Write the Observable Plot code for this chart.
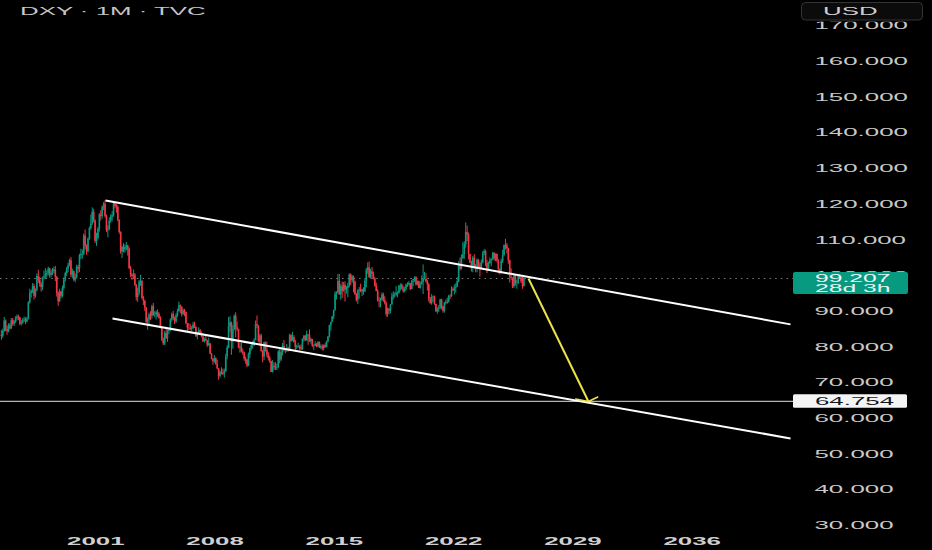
<!DOCTYPE html>
<html><head><meta charset="utf-8">
<script src="https://cdn.jsdelivr.net/npm/d3@7"></script>
<script src="https://cdn.jsdelivr.net/npm/@observablehq/plot@0.6"></script>
<style>
html,body{margin:0;padding:0;background:#000;}
#chart{width:932px;height:550px;position:relative;overflow:hidden;background:#000;}
</style></head><body><div id="chart"></div>
<script>
// ---------- data ----------
const symbolTitle = "DXY · 1M · TVC";
const currency = "USD";
const firstMonth = [1995, 6];   // first monthly candle: June 1995
const firstOpen = 83.3;
const closes = [
  83.0, 84.4, 87.3, 84.9, 84.3, 85.9, 85.1,
  87.4, 86.4, 87.0, 87.9, 88.4, 88.2, 86.4, 86.6, 87.4, 87.6, 87.0, 87.7,
  92.4, 95.0, 95.6, 97.0, 94.2, 95.9, 99.8, 98.8, 97.5, 96.7, 99.3, 99.6,
  100.2, 100.6, 101.9, 100.1, 100.7, 101.1, 101.6, 99.5, 94.9, 92.7, 95.4, 94.2,
  96.4, 98.8, 100.6, 101.9, 102.8, 104.2, 100.1, 101.1, 98.7, 99.5, 102.3, 101.9,
  105.6, 106.0, 106.0, 111.1, 108.3, 106.7, 110.2, 113.2, 114.5, 117.8, 115.4, 109.6,
  110.5, 113.0, 117.0, 116.6, 119.1, 120.0, 116.6, 112.6, 112.9, 115.3, 116.4, 116.8,
  120.2, 119.4, 119.1, 115.4, 112.1, 106.6, 107.9, 107.2, 107.9, 108.3, 107.3, 102.0,
  100.1, 99.8, 100.2, 97.3, 93.9, 95.1, 98.2, 98.4, 93.6, 92.8, 91.0, 86.9,
  87.6, 89.0, 88.6, 91.3, 88.9, 88.9, 89.6, 89.1, 88.1, 85.4, 81.9, 80.9,
  83.8, 82.3, 84.4, 84.8, 87.6, 89.1, 88.1, 87.1, 88.8, 89.9, 91.6, 91.2,
  89.2, 90.1, 89.7, 86.5, 85.3, 85.2, 85.0, 85.2, 86.2, 85.5, 82.9, 83.7,
  84.6, 83.5, 82.9, 81.5, 82.1, 81.8, 80.4, 80.9, 78.0, 76.6, 75.9, 76.7,
  75.1, 73.9, 71.8, 72.9, 72.6, 72.4, 73.1, 77.2, 79.7, 85.6, 86.8, 81.4,
  84.9, 88.6, 85.4, 84.9, 79.8, 80.0, 78.6, 78.3, 76.6, 76.4, 74.7, 77.9,
  79.5, 80.4, 81.0, 81.8, 86.3, 86.0, 81.5, 83.1, 78.7, 77.2, 81.2, 79.0,
  77.8, 76.8, 75.9, 72.9, 74.6, 74.3, 74.1, 74.3, 78.6, 76.4, 78.4, 80.2,
  79.1, 78.9, 79.0, 78.8, 83.2, 81.6, 82.7, 81.2, 79.9, 80.1, 80.2, 79.8,
  79.3, 82.2, 83.0, 81.7, 83.4, 83.2, 81.5, 82.1, 80.2, 80.2, 80.7, 80.0,
  81.3, 79.7, 80.1, 79.5, 80.4, 79.8, 81.5, 82.8, 86.0, 86.9, 88.4, 90.3,
  94.8, 95.3, 98.4, 94.6, 96.9, 95.5, 97.3, 96.0, 96.4, 97.0, 100.2, 98.6,
  99.6, 98.2, 94.6, 93.1, 95.9, 96.1, 95.5, 96.0, 95.4, 98.4, 101.5, 102.2,
  99.5, 101.1, 100.4, 99.1, 97.0, 95.6, 92.9, 92.7, 93.1, 94.6, 93.0, 92.1,
  89.1, 90.6, 90.1, 91.8, 94.0, 94.5, 94.5, 95.1, 95.1, 97.1, 97.3, 96.2,
  95.6, 96.2, 97.3, 97.5, 97.8, 96.1, 98.5, 98.9, 99.4, 97.4, 98.3, 96.4,
  97.4, 98.1, 99.0, 99.0, 98.3, 97.4, 93.4, 92.1, 93.9, 94.0, 91.9, 89.9,
  90.6, 90.9, 93.2, 91.3, 90.0, 92.4, 92.2, 92.6, 94.2, 94.1, 96.0, 95.7,
  96.5, 96.7, 98.3, 103.0, 101.8, 104.7, 105.9, 108.7, 112.1, 111.5, 105.9, 103.5,
  102.1, 104.9, 102.5, 101.7, 104.3, 102.9, 101.9, 103.6, 106.2, 106.7, 103.5, 101.3,
  103.3, 104.2, 104.5, 106.2, 104.7, 105.9, 104.1, 101.7, 100.8, 104.0, 105.7, 108.5,
  108.4, 107.6, 104.2, 99.5, 99.3, 96.9, 100.0, 97.8, 97.8, 99.8, 99.4, 98.3,
  96.9, 99.207
];
const highs = [
  84.6, 85.0, 88.3, 87.6, 85.9, 86.5, 86.6,
  88.0, 88.0, 87.5, 88.5, 89.0, 88.9, 88.4, 87.4, 88.0, 88.4, 88.2, 88.3,
  92.7, 96.2, 96.0, 97.8, 97.6, 96.3, 100.5, 101.5, 99.6, 98.1, 99.6, 101.3,
  102.0, 101.4, 102.4, 102.1, 101.6, 102.0, 102.4, 102.6, 99.8, 95.5, 96.2, 95.6,
  97.1, 99.4, 101.0, 102.3, 103.5, 104.6, 105.1, 101.8, 101.3, 100.4, 102.9, 102.9,
  106.0, 107.4, 107.2, 111.7, 112.8, 108.6, 110.6, 113.6, 117.0, 119.0, 118.6, 115.6,
  111.9, 113.5, 117.4, 118.2, 119.5, 120.5, 121.0, 117.0, 114.0, 116.2, 117.1, 117.9,
  120.5, 120.4, 120.0, 119.6, 115.7, 112.3, 108.3, 109.0, 108.6, 109.3, 108.5, 107.8,
  102.6, 100.6, 101.6, 100.6, 97.5, 96.5, 98.7, 100.1, 98.7, 94.2, 93.1, 91.0,
  88.2, 89.5, 89.9, 91.7, 92.2, 89.9, 90.1, 90.4, 89.6, 88.5, 85.6, 82.5,
  84.4, 84.9, 84.8, 85.2, 87.9, 89.5, 90.0, 88.4, 89.3, 90.6, 92.6, 91.8,
  91.2, 90.6, 90.6, 89.8, 86.6, 86.6, 86.3, 85.8, 86.9, 87.0, 85.7, 84.2,
  85.4, 84.9, 84.2, 83.0, 82.5, 83.0, 81.8, 82.5, 80.9, 78.2, 76.8, 77.6,
  77.0, 76.3, 73.9, 73.3, 74.2, 73.8, 73.8, 78.0, 80.4, 88.3, 88.5, 87.0,
  86.0, 89.0, 89.6, 87.0, 85.0, 81.0, 81.0, 79.4, 78.6, 77.2, 76.6, 78.3,
  79.7, 81.3, 81.6, 82.3, 87.3, 88.7, 86.0, 83.5, 83.6, 79.0, 81.4, 81.4,
  81.4, 78.4, 77.4, 76.0, 76.2, 75.6, 75.6, 75.2, 79.0, 79.5, 79.8, 81.0,
  81.8, 79.3, 80.7, 79.9, 83.6, 83.5, 84.1, 83.2, 81.9, 80.5, 81.1, 80.4,
  80.6, 82.3, 83.2, 83.3, 84.5, 83.5, 84.8, 82.5, 82.2, 80.6, 81.5, 81.0,
  81.5, 81.4, 80.6, 80.6, 80.6, 81.0, 81.6, 82.9, 86.1, 86.9, 88.6, 90.3,
  95.5, 95.5, 100.4, 100.3, 97.5, 98.2, 98.1, 98.3, 97.0, 97.9, 100.5, 100.5,
  100.0, 99.9, 98.5, 95.0, 96.0, 96.7, 97.6, 96.2, 96.6, 99.1, 102.0, 103.6,
  103.8, 101.8, 102.3, 101.0, 99.5, 97.9, 96.1, 93.9, 93.7, 95.2, 95.1, 94.1,
  92.6, 91.0, 90.8, 91.9, 95.0, 95.5, 95.2, 96.9, 95.5, 97.2, 97.7, 97.7,
  96.9, 96.8, 97.7, 98.0, 98.4, 97.8, 98.7, 99.0, 99.7, 99.7, 98.5, 98.5,
  98.2, 99.9, 103.0, 100.9, 100.6, 98.7, 97.8, 93.9, 94.7, 94.3, 94.3, 92.0,
  91.0, 91.6, 93.4, 93.4, 91.4, 92.4, 93.2, 93.7, 94.5, 94.6, 96.9, 96.6,
  97.4, 97.7, 99.4, 103.9, 105.0, 105.8, 109.3, 109.5, 114.8, 113.9, 111.9, 106.0,
  104.1, 105.4, 105.9, 103.1, 104.7, 104.5, 103.6, 104.4, 106.8, 107.3, 107.1, 104.3,
  103.8, 105.0, 104.7, 106.5, 106.5, 106.1, 106.1, 104.5, 101.9, 104.6, 107.1, 108.5,
  110.2, 109.0, 107.7, 104.4, 101.9, 99.4, 100.3, 100.3, 98.7, 99.9, 100.4, 99.6,
  99.5, 99.6
];
const lows = [
  81.9, 82.4, 84.1, 84.3, 83.3, 84.0, 84.8,
  84.9, 85.8, 85.8, 86.6, 87.3, 87.4, 86.0, 85.9, 86.4, 86.9, 86.3, 86.8,
  87.6, 92.0, 93.7, 95.0, 93.2, 93.7, 95.5, 97.8, 96.8, 95.4, 95.8, 98.8,
  98.9, 99.3, 99.9, 99.3, 99.4, 100.0, 100.5, 98.3, 94.0, 91.4, 92.5, 93.5,
  93.8, 95.8, 98.2, 99.8, 100.8, 102.5, 99.5, 99.1, 98.3, 98.0, 99.0, 100.6,
  100.9, 104.5, 104.6, 105.6, 107.3, 105.7, 106.4, 109.9, 112.7, 114.1, 114.8, 109.0,
  108.2, 110.0, 112.2, 115.3, 115.9, 118.2, 116.1, 112.1, 110.6, 112.6, 114.7, 115.1,
  116.4, 118.7, 117.5, 115.1, 111.6, 106.0, 104.8, 106.4, 106.3, 106.9, 105.5, 101.7,
  99.5, 98.7, 98.9, 97.0, 92.9, 92.5, 94.4, 97.0, 93.3, 91.6, 90.0, 86.6,
  84.7, 85.9, 87.4, 87.8, 88.6, 88.2, 87.6, 88.3, 87.8, 85.1, 81.5, 80.4,
  80.4, 82.1, 81.3, 83.5, 84.3, 87.0, 87.4, 86.3, 86.6, 88.3, 89.8, 89.3,
  88.4, 88.8, 88.5, 86.3, 84.1, 84.6, 84.6, 84.3, 84.9, 85.2, 82.7, 82.0,
  83.5, 83.2, 82.6, 81.3, 81.1, 81.6, 79.9, 80.2, 77.9, 76.4, 74.9, 75.5,
  74.9, 73.6, 70.7, 71.3, 72.2, 72.0, 71.3, 72.9, 76.4, 79.5, 84.0, 77.7,
  79.4, 84.6, 82.6, 84.4, 79.5, 78.3, 78.3, 77.7, 76.0, 75.2, 74.2, 74.5,
  76.8, 78.9, 79.4, 80.1, 81.8, 85.2, 81.2, 80.1, 78.6, 75.6, 76.2, 78.6,
  77.0, 76.1, 75.4, 72.9, 72.7, 73.5, 73.4, 73.4, 73.9, 75.3, 75.9, 77.5,
  78.6, 78.1, 78.5, 78.6, 78.9, 81.3, 82.0, 81.2, 78.6, 79.3, 79.6, 79.1,
  78.9, 79.0, 81.4, 81.6, 81.7, 80.5, 81.3, 80.8, 79.9, 79.0, 80.1, 79.8,
  80.1, 79.6, 79.3, 78.9, 78.9, 79.7, 79.8, 81.1, 82.5, 84.5, 86.8, 87.7,
  90.0, 93.2, 94.8, 94.5, 93.1, 93.6, 95.4, 92.6, 94.8, 93.8, 96.6, 97.2,
  97.8, 95.2, 94.6, 92.6, 91.9, 93.4, 95.2, 94.1, 94.5, 95.4, 96.6, 100.4,
  99.2, 99.2, 98.9, 98.8, 96.8, 95.5, 92.6, 91.0, 91.0, 92.8, 92.5, 91.8,
  88.4, 88.3, 89.0, 89.3, 91.8, 93.2, 93.7, 94.1, 93.8, 94.8, 95.7, 96.0,
  95.1, 95.2, 95.7, 96.7, 97.1, 95.8, 96.1, 97.0, 98.1, 97.1, 97.1, 96.4,
  96.2, 97.4, 94.7, 98.8, 97.9, 95.7, 92.6, 92.1, 91.7, 92.5, 91.7, 89.7,
  89.2, 89.7, 90.6, 90.4, 89.5, 89.5, 91.8, 92.0, 92.3, 93.3, 93.9, 95.6,
  94.6, 95.1, 97.0, 98.0, 101.3, 101.6, 104.7, 104.6, 107.7, 109.5, 104.4, 103.4,
  101.0, 100.8, 101.9, 100.8, 100.8, 101.9, 99.6, 101.7, 103.3, 105.6, 102.5, 100.6,
  101.3, 103.4, 102.5, 104.2, 104.1, 103.9, 103.6, 100.5, 100.2, 100.4, 103.4, 105.4,
  107.2, 106.1, 103.2, 97.9, 98.7, 96.4, 96.4, 97.1, 96.2, 97.5, 99.0, 97.8,
  96.2, 98.0
];
const yTicks = [30, 40, 50, 60, 70, 80, 90, 100, 110, 120, 130, 140, 150, 160, 170];
const xTickYears = [2001, 2008, 2015, 2022, 2029, 2036];
const lastPrice = 99.207;
const countdown = "28d 3h";
const targetLevel = 64.754;
// drawn channel lines (decimal year, price)
const channelLines = [
  {x1: 2001.57, y1: 121.05, x2: 2041.77, y2: 86.35},
  {x1: 2001.98, y1: 88.0, x2: 2041.77, y2: 54.4}
];
const projection = [{x1: 2026.39, y1: 99.207, x2: 2029.91, y2: 64.754}];
const xDomain = [1995.407, 2042.062];
const yDomain = [28.6, 177.1];

// ---------- build ----------
const UP = "#089981", DOWN = "#f23645";
const candles = closes.map((c, i) => {
  const open = i ? closes[i - 1] : firstOpen;
  const k = firstMonth[1] - 1 + i;
  const yr = firstMonth[0] + Math.floor(k / 12), m = k % 12;
  return {t: yr + (m + 0.5) / 12, open, close: c,
    high: Math.max(highs[i], open, c), low: Math.min(lows[i], open, c),
    color: c >= open ? UP : DOWN};
});

const FONT = "'Liberation Sans', Arial, sans-serif";
const K = 2.35; // horizontal stretch of the reference picture

// arrow-head wings: symmetric in the un-stretched picture, then stretched by K
const W = 932, H = 550, mL = 0, mR = 137, mT = 0, mB = 20;
const xs = d3.scaleLinear(xDomain, [mL, W - mR]);
const ys = d3.scaleLinear(yDomain, [H - mB, mT]);
const wings = projection.flatMap(p => {
  const tx = xs(p.x2), ty = ys(p.y2);
  let dx = (xs(p.x1) - tx) / K, dy = ys(p.y1) - ty;
  const len = Math.hypot(dx, dy); dx /= len; dy /= len;
  return [-1, 1].map(s => {
    const a = s * 53 * Math.PI / 180, L = 6;
    const wx = (dx * Math.cos(a) - dy * Math.sin(a)) * L * K;
    const wy = (dx * Math.sin(a) + dy * Math.cos(a)) * L;
    return {x1: p.x2, y1: p.y2, x2: xs.invert(tx + wx), y2: ys.invert(ty + wy)};
  });
});

const plot = Plot.plot({
  width: W, height: H,
  marginLeft: mL, marginRight: mR, marginTop: mT, marginBottom: mB,
  style: {background: "#000", color: "#c9c9c9", fontFamily: FONT, fontSize: "11px", overflow: "visible"},
  x: {type: "linear", domain: xDomain, axis: null},
  y: {type: "linear", domain: yDomain, axis: null},
  marks: [
    Plot.axisX({ticks: xTickYears, tickFormat: d => String(d), tickSize: 0, tickPadding: 7,
      fontWeight: "bold", fill: "#cfcfcf", fontSize: 11}),
    Plot.axisY({anchor: "right", ticks: yTicks, tickFormat: d => d.toFixed(3), tickSize: 0,
      tickPadding: 19, fill: "#c9c9c9", fontSize: 11, textAnchor: "start"}),
    Plot.ruleY([lastPrice], {stroke: "#7d7d7d", strokeDasharray: "1.5,4.2", strokeWidth: 1}),
    Plot.ruleY([targetLevel], {stroke: "#b4b4b4", strokeWidth: 1.2}),
    Plot.ruleX(candles, {x: "t", y1: "low", y2: "high", stroke: "color", strokeWidth: 1}),
    Plot.ruleX(candles, {x: "t", y1: "open", y2: "close", stroke: "color", strokeWidth: 1.6}),
    Plot.link(channelLines, {x1: "x1", y1: "y1", x2: "x2", y2: "y2", stroke: "#ffffff", strokeWidth: 2}),
    Plot.link(projection, {x1: "x1", y1: "y1", x2: "x2", y2: "y2", stroke: "#ece44c", strokeWidth: 2}),
    Plot.link(wings, {x1: "x1", y1: "y1", x2: "x2", y2: "y2", stroke: "#ece44c", strokeWidth: 1.5, strokeLinecap: "round"})
  ]
});

const svg = d3.select(plot);
// stretch axis labels horizontally like the reference
svg.selectAll("text").each(function () {
  const t = this.getAttribute("transform") || "";
  this.setAttribute("transform", t + ` scale(${K},1)`);
});

const Y = v => plot.scale("y").apply(v);
const right = plot.scale("x").range[1];

function label(x, y, txt, fill, size = 11) {
  svg.append("text")
    .attr("transform", `translate(${x},${y}) scale(${K},1)`)
    .attr("dy", "0.35em")
    .attr("text-anchor", "start")
    .attr("fill", fill)
    .attr("font-family", FONT)
    .attr("font-size", size)
    .text(txt);
}

// current price tag
const yp = Y(lastPrice);
svg.append("rect").attr("x", right - 2).attr("y", yp - 6).attr("width", 115).attr("height", 22)
  .attr("rx", 2).attr("fill", "#089981");
label(right + 20, yp, lastPrice.toFixed(3), "#eafaf6", 10.5);
label(right + 20, yp + 10.2, countdown, "#eafaf6", 10.5);

// target level tag
const yt = Y(targetLevel);
svg.append("rect").attr("x", right - 2).attr("y", yt - 6.8).attr("width", 114).attr("height", 13.6)
  .attr("rx", 1.5).attr("fill", "#f4f4f4");
label(right + 20, yt, targetLevel.toFixed(3), "#131722");

// currency button (covers top of the price scale)
svg.append("rect").attr("x", right).attr("y", 0).attr("width", W - right).attr("height", 21.7)
  .attr("fill", "#000");
svg.append("rect").attr("x", 801.5).attr("y", 2.5).attr("width", 121).attr("height", 17.5)
  .attr("rx", 4).attr("fill", "#0b0b0b").attr("stroke", "#343434");
label(823, 11.5, currency, "#cfcfcf");

// title
label(20, 11.5, symbolTitle, "#c6c6c6");

document.getElementById("chart").appendChild(plot);
</script>
</body></html>
